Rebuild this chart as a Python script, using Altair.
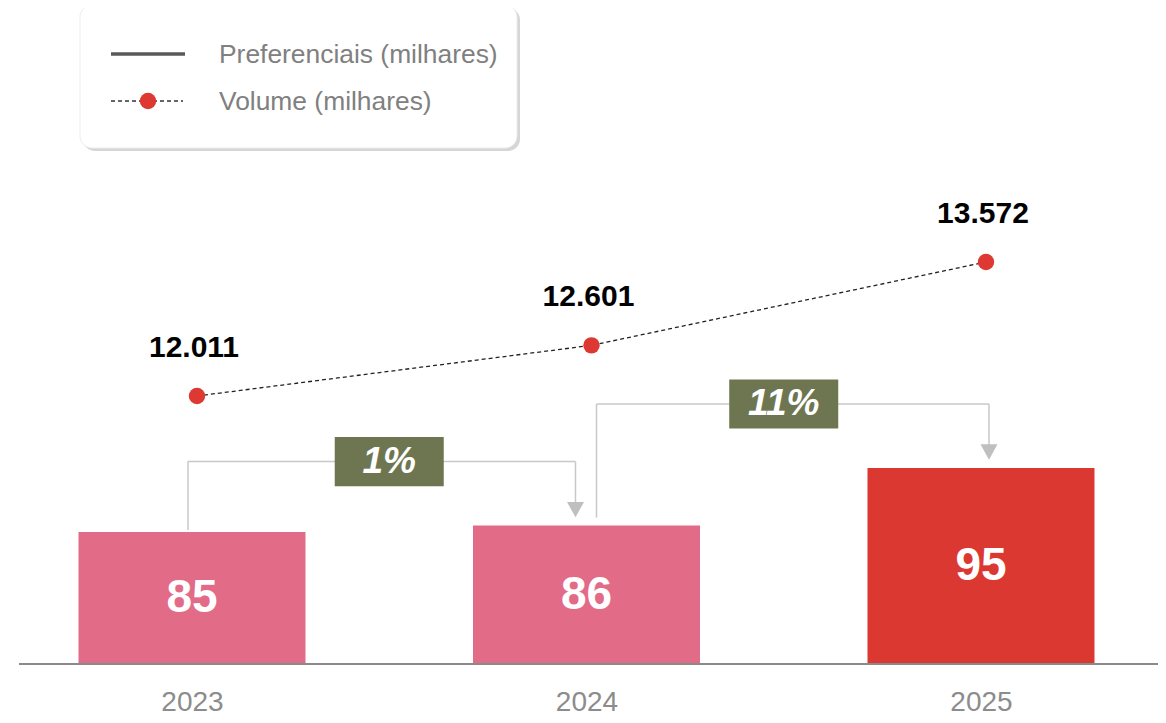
import altair as alt
import pandas as pd

# ---------------- data ----------------
years = [2023, 2024, 2025]
preferenciais = [85, 86, 95]
volume = [12.011, 12.601, 13.572]
volume_labels = ["12.011", "12.601", "13.572"]
bar_colors = ["#E26B87", "#E26B87", "#DC3832"]
growth_labels = ["1%", "11%"]
legend_labels = ["Preferenciais (milhares)", "Volume (milhares)"]

bars_df = pd.DataFrame({"year": years, "value": preferenciais, "color": bar_colors})
vol_df = pd.DataFrame({"year": years, "volume": volume, "label": volume_labels})
pairs_df = pd.DataFrame({
    "y0": years[:-1], "y1": years[1:],
    "v0": preferenciais[:-1], "v1": preferenciais[1:],
    "label": growth_labels,
})

FONT = "Liberation Sans"
BASE = 64.375  # value sitting on the baseline (bars are truncated)
x_scale = alt.Scale(domain=[2022.5336, 2025.4487], nice=False, zero=False, padding=0)
y_bar = alt.Scale(domain=[BASE, 166.875], nice=False, zero=False)
y_vol = alt.Scale(domain=[8.889, 16.531], nice=False, zero=False)

x_axis = alt.Axis(values=years, format="d", title=None, labelFont=FONT, labelFontSize=28,
                  labelColor="#8c8c8c", labelBaseline="alphabetic", labelPadding=46,
                  ticks=False, tickSize=0, domain=False, grid=False)

def X(field):
    return alt.X(field, type="quantitative", scale=x_scale, axis=x_axis)

def YB(field):
    return alt.Y(field, type="quantitative", scale=y_bar, axis=None)

one = alt.Data(values=[{"k": 0}])

# ---------------- bars ----------------
bars = alt.Chart(bars_df).mark_bar(size=227).encode(
    x=X("year"), y=YB("value"), y2=alt.datum(BASE),
    color=alt.Color("color:N", scale=None),
)
bar_text = alt.Chart(bars_df).transform_calculate(
    mid=f"(datum.value + {BASE}) / 2"
).mark_text(font=FONT, fontSize=46, fontWeight="bold", color="white", baseline="middle").encode(
    x=X("year"), y=YB("mid"), text=alt.Text("value:Q"),
)
baseline = alt.Chart(one).mark_rule(color="#8a8a8a", strokeWidth=2).encode(
    x=alt.value(11), x2=alt.value(1158), y=alt.value(656),
)

# ---------------- volume line ----------------
vol_y = alt.Y("volume:Q", scale=y_vol, axis=None)
vol_line = alt.Chart(vol_df).mark_line(color="#222222", strokeWidth=1.3, strokeDash=[4, 3],
                                       xOffset=5).encode(x=X("year"), y=vol_y)
vol_pts = alt.Chart(vol_df).mark_circle(size=270, color="#DD3832", opacity=1, xOffset=5).encode(
    x=X("year"), y=vol_y)
vol_text = alt.Chart(vol_df).mark_text(font=FONT, fontSize=30, fontWeight="bold", color="#000000",
                                       baseline="middle", dy=-48, xOffset=2).encode(
    x=X("year"), y=vol_y, text="label:N")

# ---------------- growth brackets ----------------
bracket_style = [
    {"ldx": -4, "rdx": -11, "gap": -2},
    {"ldx": 10, "rdx": 8, "gap": -8},
]
line_col = "#c8c8c8"
bracket_layers = []
for (y0, st) in zip(pairs_df["y0"], bracket_style):
    base = alt.Chart(pairs_df).transform_filter(alt.datum.y0 == int(y0)).transform_calculate(
        level="max(datum.v0, datum.v1) + 10", mid="(datum.y0 + datum.y1) / 2")
    left = base.mark_rule(color=line_col, strokeWidth=1.5, xOffset=st["ldx"], yOffset=st["gap"]).encode(
        x=X("y0"), y=YB("v0"), y2=alt.Y2("level:Q"))
    horiz = base.mark_rule(color=line_col, strokeWidth=1.5, xOffset=st["ldx"], x2Offset=st["rdx"]).encode(
        x=X("y0"), x2=alt.X2("y1:Q"), y=YB("level"))
    right = base.mark_rule(color=line_col, strokeWidth=1.5, xOffset=st["rdx"], y2Offset=-15).encode(
        x=X("y1"), y=YB("level"), y2=alt.Y2("v1:Q"))
    arrow = base.mark_point(shape="M-1,-0.9L1,-0.9L0,0.9Z", filled=True, size=289, color="#bfbfbf",
                            opacity=1, strokeWidth=0, xOffset=st["rdx"], yOffset=-16).encode(
        x=X("y1"), y=YB("v1"))
    box = base.mark_point(shape="M-1,-0.45L1,-0.45L1,0.45L-1,0.45Z", filled=True, size=11881,
                          color="#6E7651", opacity=1, strokeWidth=0).encode(x=X("mid"), y=YB("level"))
    box_text = base.mark_text(font=FONT, fontSize=37, fontWeight="bold", fontStyle="italic",
                              color="white", baseline="middle").encode(
        x=X("mid"), y=YB("level"), text="label:N")
    bracket_layers += [left, horiz, right, arrow, box, box_text]

# ---------------- legend box ----------------
shadow = alt.Chart(one).mark_rect(color="#d6d6d6", cornerRadius=12).encode(
    x=alt.value(75), x2=alt.value(512), y=alt.value(0), y2=alt.value(143))
panel = alt.Chart(one).mark_rect(color="white", stroke="#ececec", strokeWidth=1, cornerRadius=12).encode(
    x=alt.value(72), x2=alt.value(509), y=alt.value(-3), y2=alt.value(140))
leg_solid = alt.Chart(one).mark_rule(color="#595959", strokeWidth=3.5).encode(
    x=alt.value(103), x2=alt.value(177), y=alt.value(46))
leg_dash = alt.Chart(one).mark_rule(color="#333333", strokeWidth=1.3, strokeDash=[4, 3]).encode(
    x=alt.value(103), x2=alt.value(175), y=alt.value(93))
leg_dot = alt.Chart(one).mark_circle(size=270, color="#DD3832", opacity=1).encode(
    x=alt.value(140), y=alt.value(93))
leg_t1 = alt.Chart(one).mark_text(font=FONT, fontSize=26.4, color="#808080", align="left",
                                  baseline="middle").encode(
    x=alt.value(211), y=alt.value(47), text=alt.value(legend_labels[0]))
leg_t2 = alt.Chart(one).mark_text(font=FONT, fontSize=26.4, color="#808080", align="left",
                                  baseline="middle").encode(
    x=alt.value(211), y=alt.value(94), text=alt.value(legend_labels[1]))

chart = alt.layer(
    shadow, panel, leg_solid, leg_dash, leg_dot, leg_t1, leg_t2,
    *bracket_layers,
    bars, bar_text, baseline,
    vol_line, vol_pts, vol_text,
).resolve_scale(y="independent").properties(
    width=1150, height=656,
    padding={"left": 0, "right": 0, "top": 0, "bottom": 51},
    autosize=alt.AutoSizeParams(type="none"),
    background="white",
).configure_view(stroke=None)

chart.save("out.html", embed_options={"renderer": "svg", "actions": False})
